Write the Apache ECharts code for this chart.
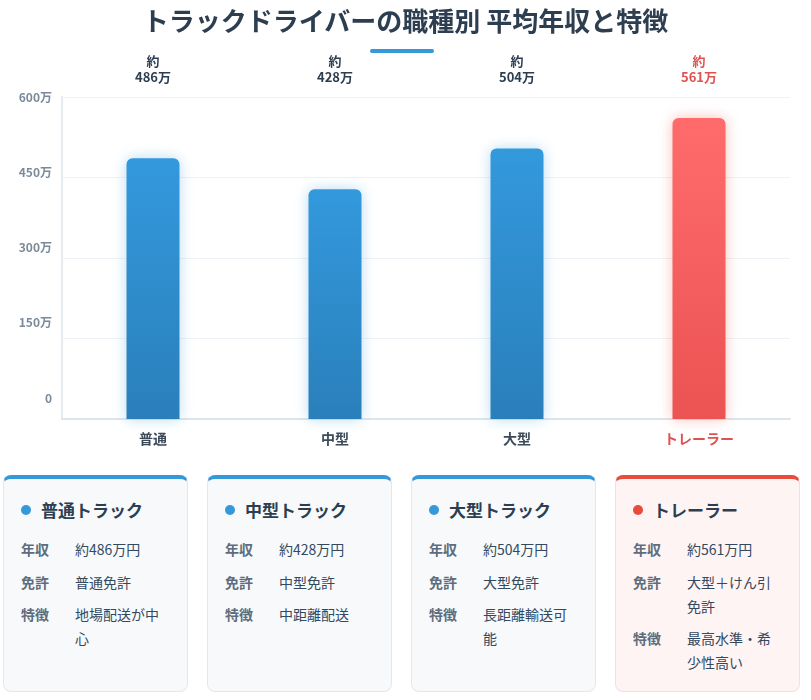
<!DOCTYPE html>
<html lang="ja">
<head>
<meta charset="utf-8">
<title>トラックドライバーの職種別 平均年収と特徴</title>
<script src="https://cdn.jsdelivr.net/npm/echarts/dist/echarts.min.js"></script>
<style>
  body { margin: 0; background: #fff; font-family: "Noto Sans CJK JP", "Noto Sans", sans-serif; }
  #wrap { position: relative; width: 811px; height: 700px; overflow: hidden; }
  #chart { position: absolute; left: 0; top: 0; width: 811px; height: 470px; }
  h1 { position: absolute; left: 0; top: 0; width: 811px; margin: 0; text-align: center;
       font-size: 26px; line-height: 40px; font-weight: 700; color: #2c3e50; }
  .bar-line { position: absolute; left: 370px; top: 49px; width: 64px; height: 4px; border-radius: 2px; background: #3498db; }
  #cards { position: absolute; left: 3px; top: 475px; width: 797px; display: flex; gap: 19px; }
  .card { width: 185px; box-sizing: border-box; height: 217px; background: #f7f9fb; border: 1px solid #e3e8ee;
          border-top: 4px solid #3498db; border-radius: 8px; padding: 18px 17px 16px 17px; }
  .card.hl { background: #fff4f4; border-color: #f6dede; border-top-color: #e74c3c; }
  .card h3 { margin: 0 0 14px 0; font-size: 17px; line-height: 26px; font-weight: 700; color: #2c3e50; display: flex; align-items: center; }
  .card h3 i { display: inline-block; width: 10px; height: 10px; border-radius: 50%; background: #3498db; margin-right: 10px; }
  .card.hl h3 i { background: #e74c3c; }
  .row { display: flex; font-size: 14px; line-height: 24px; margin-bottom: 8.5px; }
  .row b { width: 54px; flex: none; color: #5d6d7e; font-weight: 700; }
  .row span { flex: 1; color: #34495e; }
</style>
</head>
<body>
<div id="wrap">
  <div id="chart"></div>
  <h1>トラックドライバーの職種別 平均年収と特徴</h1>
  <div class="bar-line"></div>
  <div id="cards"></div>
</div>
<script>
// データ
const categories = ['普通', '中型', '大型', 'トレーラー']
const cardTitles = ['普通トラック', '中型トラック', '大型トラック', 'トレーラー']
const salaries = [486, 428, 504, 561]
const licenses = ['普通免許', '中型免許', '大型免許', '大型＋けん引免許']
const features = ['地場配送が中心', '中距離配送', '長距離輸送可能', '最高水準・希少性高い']
const highlight = [false, false, false, true]
const yMax = 600
const yStep = 150

// cards
const cardsEl = document.getElementById('cards')
cardTitles.forEach((t, i) => {
  const c = document.createElement('div')
  c.className = 'card' + (highlight[i] ? ' hl' : '')
  c.innerHTML = `<h3><i></i>${t}</h3>
    <div class="row"><b>年収</b><span>約${salaries[i]}万円</span></div>
    <div class="row"><b>免許</b><span>${licenses[i]}</span></div>
    <div class="row"><b>特徴</b><span>${features[i]}</span></div>`
  cardsEl.appendChild(c)
})

const blueBar = new echarts.graphic.LinearGradient(0, 0, 0, 1, [
  { offset: 0, color: '#3399dd' },
  { offset: 1, color: '#2a7fba' },
])
const redBar = new echarts.graphic.LinearGradient(0, 0, 0, 1, [
  { offset: 0, color: '#ff6b6b' },
  { offset: 1, color: '#ec5353' },
])

const chart = echarts.init(document.getElementById('chart'))

chart.setOption({
  animation: false,
  textStyle: { fontFamily: 'Noto Sans CJK JP' },
  grid: [
    { left: 62, right: 21, top: 97, bottom: 51 },
    { left: 62, right: 21, top: 97, height: 301 },
  ],
  xAxis: [
    {
      type: 'category', gridIndex: 0, data: categories,
      axisLine: { lineStyle: { color: '#dde4ec', width: 2 } },
      axisTick: { show: false },
      axisLabel: {
        margin: 11,
        formatter: (v, i) => highlight[i] ? `{r|${v}}` : `{n|${v}}`,
        rich: {
          n: { color: '#3d4a5a', fontWeight: 'bold', fontSize: 14, lineHeight: 18 },
          r: { color: '#e05252', fontWeight: 'bold', fontSize: 14, lineHeight: 18 },
        },
      },
    },
    {
      type: 'category', gridIndex: 0, position: 'top',
      data: salaries.map(v => `約\n${v}万`),
      axisLine: { show: false },
      axisTick: { show: false },
      axisLabel: {
        margin: 12,
        formatter: (v, i) => v.split('\n').map(s => highlight[i] ? `{r|${s}}` : `{n|${s}}`).join('\n'),
        rich: {
          n: { color: '#2c3e50', fontWeight: 'bold', fontSize: 13, lineHeight: 16 },
          r: { color: '#e05252', fontWeight: 'bold', fontSize: 13, lineHeight: 16 },
        },
      },
    },
    { type: 'category', gridIndex: 1, data: categories, show: false },
  ],
  yAxis: [
    {
      type: 'value', gridIndex: 0, min: 0, max: yMax, interval: yStep,
      axisLine: { show: true, lineStyle: { color: '#e6ebf0', width: 2 } },
      axisTick: { show: false },
      axisLabel: { show: false },
      splitLine: { lineStyle: { color: '#eef1f5' } },
    },
    {
      type: 'value', gridIndex: 1, min: 0, max: yMax, interval: yStep,
      axisLine: { show: false },
      axisTick: { show: false },
      splitLine: { show: false },
      axisLabel: {
        margin: 10, color: '#7b8a9a', fontSize: 12, fontWeight: 'bold',
        formatter: v => v === 0 ? '0' : v + '万',
      },
    },
  ],
  series: [
    {
      type: 'bar',
      xAxisIndex: 0,
      yAxisIndex: 0,
      barWidth: 53,
      data: salaries.map((v, i) => ({
        value: v,
        itemStyle: {
          color: highlight[i] ? redBar : blueBar,
          borderRadius: [6, 6, 0, 0],
          shadowBlur: 14,
          shadowColor: highlight[i] ? 'rgba(231,76,60,0.35)' : 'rgba(52,152,219,0.35)',
        },
      })),
    },
  ],
})
</script>
</body>
</html>
